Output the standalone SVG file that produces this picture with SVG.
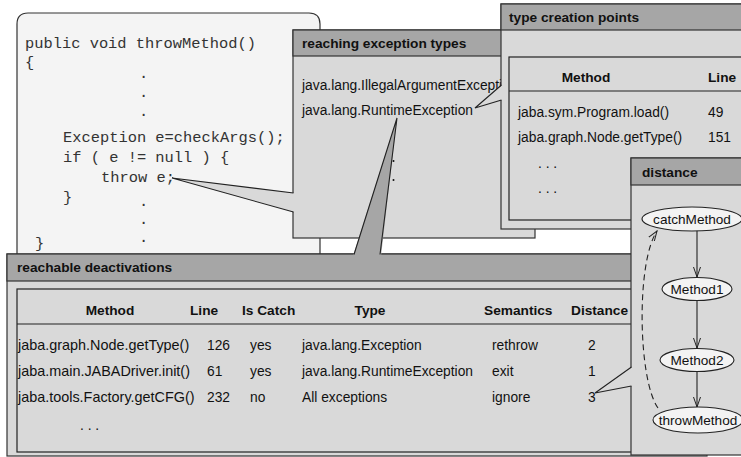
<svg xmlns="http://www.w3.org/2000/svg" width="741" height="457" viewBox="0 0 741 457">
<style>
.win{fill:#d9d9d9;stroke:#333;stroke-width:1.2}
.bar{fill:#a6a6a6;stroke:#333;stroke-width:1.2}
.tbl{fill:#d9d9d9;stroke:#222;stroke-width:1.2}
.ttl{font-family:"Liberation Sans",Arial,sans-serif;font-weight:bold;font-size:13.7px;fill:#111}
.t{font-family:"Liberation Sans",Arial,sans-serif;font-size:13.8px;fill:#111}
.tm{font-family:"Liberation Sans",Arial,sans-serif;font-size:14.4px;fill:#111}
.th{font-family:"Liberation Sans",Arial,sans-serif;font-weight:bold;font-size:13.7px;fill:#111}
.code{font-family:"Liberation Mono","Courier New",monospace;font-size:15.4px;fill:#333}
.ln{stroke:#222;stroke-width:1.1;fill:none}
.node{fill:#f3f3f3;stroke:#222;stroke-width:1.1}
.nl{font-family:"Liberation Sans",Arial,sans-serif;font-size:13.6px;fill:#111;text-anchor:middle}
</style>
<defs>
<marker id="arr" markerWidth="11" markerHeight="8" refX="10" refY="4" orient="auto" markerUnits="userSpaceOnUse">
<path d="M0,0.5 L10,4 L0,7.5" fill="none" stroke="#222" stroke-width="1"/>
</marker>
</defs>
<rect width="741" height="457" fill="#ffffff"/>

<g id="code">
<path d="M17,275 V24 Q17,13 28,13 H309 Q320,13 320,24 V275" fill="#f4f4f4" stroke="#333" stroke-width="1.2"/>
<text class="code" x="25" y="48">public void throwMethod()</text>
<text class="code" x="25" y="67">{</text>
<text class="code" x="139" y="78">.</text>
<text class="code" x="139" y="97">.</text>
<text class="code" x="139" y="116">.</text>
<text class="code" x="63" y="142" xml:space="preserve">Exception e=checkArgs();</text>
<text class="code" x="63" y="162" xml:space="preserve">if ( e != null ) {</text>
<text class="code" x="101" y="182">throw e;</text>
<text class="code" x="63" y="202">}</text>
<text class="code" x="139" y="206">.</text>
<text class="code" x="139" y="224">.</text>
<text class="code" x="139" y="242">.</text>
<text class="code" x="35" y="248">}</text>
</g>

<g id="reaching-exception-types">
<rect class="win" x="293" y="30" width="242" height="208"/>
<rect class="bar" x="293" y="30" width="242" height="26"/>
<text class="ttl" x="302" y="48">reaching exception types</text>
<text class="t" x="302" y="90">java.lang.IllegalArgumentException</text>
<text class="t" x="302" y="115">java.lang.RuntimeException</text>
<circle cx="393.5" cy="161" r="1" fill="#111"/>
<circle cx="393.5" cy="180" r="1" fill="#111"/>
</g>

<g id="type-creation-points">
<rect class="win" x="501" y="4" width="250" height="225"/>
<rect class="bar" x="501" y="4" width="250" height="26"/>
<text class="ttl" x="509" y="22">type creation points</text>
<rect class="tbl" x="509" y="57" width="240" height="163"/>
<line class="ln" x1="509" y1="91" x2="741" y2="91"/>
<text class="th" x="586" y="82" text-anchor="middle">Method</text>
<text class="th" x="708" y="82">Line</text>
<text class="t" x="518" y="117">jaba.sym.Program.load()</text>
<text class="t" x="708" y="117">49</text>
<text class="t" x="518" y="142">jaba.graph.Node.getType()</text>
<text class="t" x="708" y="142">151</text>
<text class="t" x="538" y="168">. . .</text>
<text class="t" x="538" y="193">. . .</text>
</g>

<g id="reachable-deactivations">
<rect class="win" x="7" y="254" width="700" height="202"/>
<rect class="bar" x="7" y="254" width="700" height="27"/>
<text class="ttl" x="17" y="272">reachable deactivations</text>
<rect class="tbl" x="17" y="289" width="690" height="163"/>
<line class="ln" x1="17" y1="324" x2="707" y2="324"/>
<text class="th" x="110" y="315" text-anchor="middle">Method</text>
<text class="th" x="190" y="315">Line</text>
<text class="th" x="242" y="315">Is Catch</text>
<text class="th" x="370" y="315" text-anchor="middle">Type</text>
<text class="th" x="484" y="315">Semantics</text>
<text class="th" x="571" y="315">Distance</text>
<text class="tm" x="18" y="350">jaba.graph.Node.getType()</text>
<text class="t" x="207" y="350">126</text>
<text class="t" x="250" y="350">yes</text>
<text class="t" x="302" y="350">java.lang.Exception</text>
<text class="t" x="492" y="350">rethrow</text>
<text class="t" x="588" y="350">2</text>
<text class="tm" x="18" y="376">jaba.main.JABADriver.init()</text>
<text class="t" x="207" y="376">61</text>
<text class="t" x="250" y="376">yes</text>
<text class="t" x="302" y="376">java.lang.RuntimeException</text>
<text class="t" x="492" y="376">exit</text>
<text class="t" x="588" y="376">1</text>
<text class="tm" x="18" y="402">jaba.tools.Factory.getCFG()</text>
<text class="t" x="207" y="402">232</text>
<text class="t" x="250" y="402">no</text>
<text class="t" x="302" y="402">All exceptions</text>
<text class="t" x="492" y="402">ignore</text>
<text class="t" x="588" y="402">3</text>
<text class="t" x="80" y="430">. . .</text>
</g>

<g id="distance">
<rect class="win" x="631" y="158" width="120" height="297"/>
<rect class="bar" x="631" y="158" width="120" height="27"/>
<text class="ttl" x="642" y="177">distance</text>
</g>

<g id="connectors">
<polygon points="172,178 294,193 294,212" fill="#d9d9d9"/>
<polyline class="ln" points="293.5,193 172,178 293.5,212"/>
<polygon points="475,108 502,85 502,100" fill="#d9d9d9"/>
<polyline class="ln" points="501.5,85 475,108 501.5,100"/>
<polygon points="397,118 353,256 381,256" fill="#a6a6a6"/>
<polyline class="ln" points="354,254.5 397,118 380,254.5"/>
<polygon points="595,393 632,367 632,386" fill="#d9d9d9"/>
<polyline class="ln" points="631.5,367 595,393 631.5,386"/>
<line class="ln" x1="697" y1="230" x2="697" y2="277" marker-end="url(#arr)"/>
<line class="ln" x1="697" y1="300" x2="697" y2="348" marker-end="url(#arr)"/>
<line class="ln" x1="697" y1="371" x2="697" y2="407" marker-end="url(#arr)"/>
<path class="ln" d="M658,408 C638,380 636,262 657,231" stroke-dasharray="6,4" marker-end="url(#arr)"/>
</g>

<g id="n-catchMethod">
<ellipse class="node" cx="692" cy="219" rx="50" ry="12"/>
<text class="nl" x="692" y="224">catchMethod</text>
</g>
<g id="n-Method1">
<ellipse class="node" cx="697" cy="289" rx="35" ry="11.5"/>
<text class="nl" x="697" y="294">Method1</text>
</g>
<g id="n-Method2">
<ellipse class="node" cx="697" cy="360" rx="37" ry="11.5"/>
<text class="nl" x="697" y="365">Method2</text>
</g>
<g id="n-throwMethod">
<ellipse class="node" cx="698" cy="420" rx="45" ry="13"/>
<text class="nl" x="698" y="425">throwMethod</text>
</g>
</svg>
